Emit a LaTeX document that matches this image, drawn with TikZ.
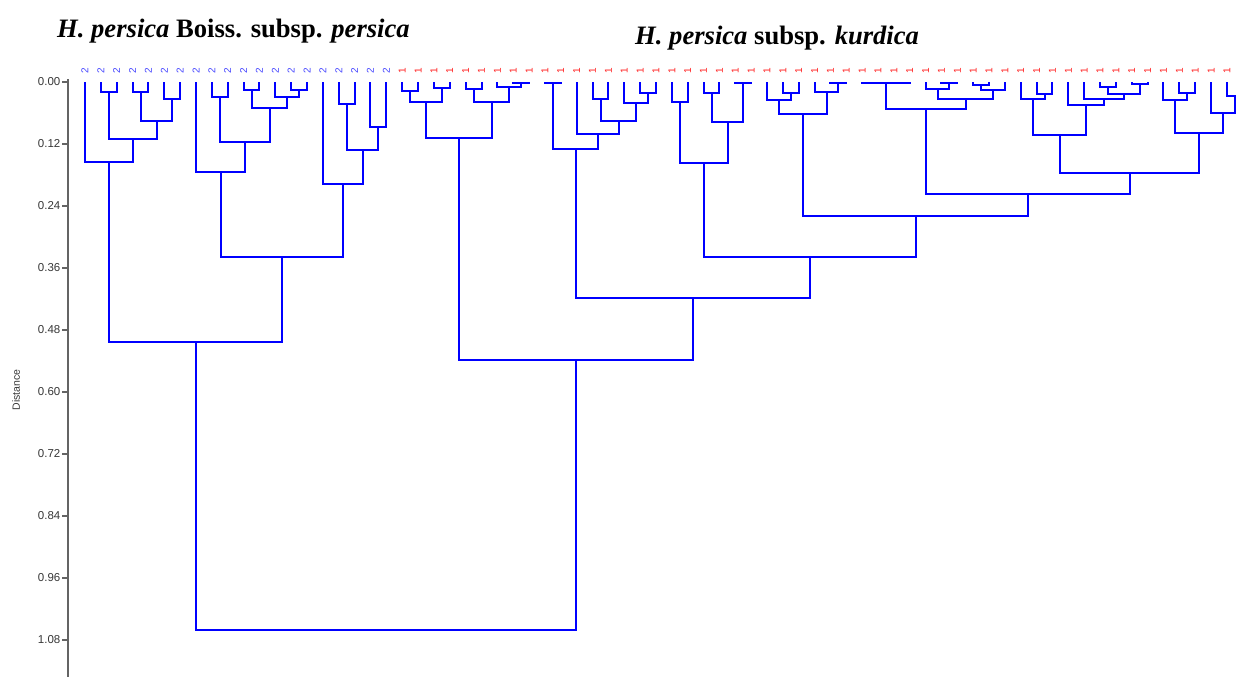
\documentclass[tikz,border=0pt]{standalone}
\usepackage{fontspec}
\setmainfont{Liberation Serif}
\setsansfont{Liberation Sans}
\usetikzlibrary{calc}
\definecolor{treeblue}{RGB}{0,0,255}
\definecolor{labblue}{RGB}{70,70,255}
\definecolor{labred}{RGB}{255,30,30}
\definecolor{axisgray}{RGB}{100,100,100}
\definecolor{ticktext}{RGB}{55,55,55}
\newcommand\tjoin[4]{%
  \path let \p1=(#1), \p2=(#2) in ({round((\x1+\x2)/2)},{round(#4)}) coordinate (#3);
  \draw[tree] let \p1=(#1) in (#1) -- (\x1,{round(#4)}) -- (#3);
  \draw[tree] let \p2=(#2) in (#2) -- (\x2,{round(#4)}) -- (#3);}
\begin{document}
\begin{tikzpicture}[x=1pt,y=-1pt,
  tree/.style={draw=treeblue,line width=2pt},
  axisline/.style={draw=axisgray,line width=1.3pt},
  ticklab/.style={anchor=east,inner sep=0pt,text=ticktext,font=\sffamily\fontsize{11.5}{13}\selectfont},
  leaflab/.style={rotate=90,inner sep=0pt,font=\sffamily\fontsize{10}{11}\selectfont},
  titletext/.style={anchor=base west,inner sep=0pt,font=\fontsize{26.6}{30}\selectfont\bfseries}]
\useasboundingbox (0,0) rectangle (1236,677);
\clip (0,0) rectangle (1236,677);
% titles
\node[titletext] (title1) at (57,37.5) {\textit{H. persica} Boiss. subsp. \textit{persica}};
\node[titletext] (title2) at (635,44.5) {\textit{H. persica} subsp. \textit{kurdica}};
% axis
\draw[axisline] (68,79) -- (68,677);
\foreach \v [count=\k from 0] in {0.00,0.12,0.24,0.36,0.48,0.60,0.72,0.84,0.96,1.08}{
  \draw[axisline] (62,{82+62*\k}) -- (68,{82+62*\k});
  \node[ticklab] (tk\k) at (60.5,{82+62*\k}) {\v};
}
\node[rotate=90,inner sep=0pt,text=ticktext,font=\sffamily\fontsize{10.5}{12}\selectfont] (dist) at (16,390) {Distance};
% leaves
\foreach \i in {0,...,73}{\coordinate (l\i) at ({round(85+15.86*\i)},82);}
\foreach \i in {0,...,19}{\node[leaflab,text=labblue] (n\i) at ({85+15.86*\i},71) {2};}
\foreach \i in {20,...,72}{\node[leaflab,text=labred] (n\i) at ({85+15.86*\i},71) {1};}
% subsp. persica
\tjoin{l1}{l2}{a12}{92.3}
\tjoin{l3}{l4}{a34}{92.3}
\tjoin{l5}{l6}{a56}{99.3}
\tjoin{a34}{a56}{a36}{121.3}
\tjoin{a12}{a36}{a16}{139.3}
\tjoin{l0}{a16}{a06}{161.7}
\tjoin{l8}{l9}{a89}{97.3}
\tjoin{l10}{l11}{a1011}{90}
\tjoin{l13}{l14}{a1314}{90}
\tjoin{l12}{a1314}{a1214}{97}
\tjoin{a1011}{a1214}{a1014}{108}
\tjoin{a89}{a1014}{a814}{141.7}
\tjoin{l7}{a814}{a714}{171.7}
\tjoin{l16}{l17}{a1617}{104.3}
\tjoin{l18}{l19}{a1819}{126.7}
\tjoin{a1617}{a1819}{a1619}{150.3}
\tjoin{l15}{a1619}{a1519}{183.7}
\tjoin{a714}{a1519}{a719}{257}
\tjoin{a06}{a719}{a019}{342}
% subsp. kurdica
\tjoin{l20}{l21}{b2021}{90.7}
\tjoin{l22}{l23}{b2223}{88.3}
\tjoin{b2021}{b2223}{b2023}{101.7}
\tjoin{l24}{l25}{b2425}{89.3}
\tjoin{l27}{l28}{b2728}{82.5}
\tjoin{l26}{b2728}{b2628}{86.5}
\tjoin{b2425}{b2628}{b2428}{101.7}
\tjoin{b2023}{b2428}{b2028}{138.3}
\tjoin{l29}{l30}{b2930}{82.5}
\tjoin{l32}{l33}{b3233}{99.3}
\tjoin{l35}{l36}{b3536}{93.3}
\tjoin{l34}{b3536}{b3436}{103.3}
\tjoin{b3233}{b3436}{b3236}{120.7}
\tjoin{l31}{b3236}{b3136}{134.3}
\tjoin{b2930}{b3136}{b2936}{149.3}
\tjoin{l37}{l38}{b3738}{101.7}
\tjoin{l39}{l40}{b3940}{93.3}
\tjoin{l41}{l42}{b4142}{82.5}
\tjoin{b3940}{b4142}{b3942}{121.7}
\tjoin{b3738}{b3942}{b3742}{163.3}
\tjoin{l44}{l45}{b4445}{93.3}
\tjoin{l43}{b4445}{b4345}{100}
\tjoin{l47}{l48}{b4748}{83.3}
\tjoin{l46}{b4748}{b4648}{91.7}
\tjoin{b4345}{b4648}{b4348}{114}
\tjoin{l49}{l50}{b4950}{82.5}
\tjoin{l51}{l52}{b5152}{82.5}
\tjoin{b4950}{b5152}{b4952}{82.8}
\tjoin{l54}{l55}{b5455}{82.7}
\tjoin{l53}{b5455}{b5355}{88.7}
\tjoin{l56}{l57}{b5657}{85.3}
\tjoin{b5657}{l58}{b5658}{90.3}
\tjoin{b5355}{b5658}{b5358}{98.7}
\tjoin{b4952}{b5358}{b4958}{108.7}
\tjoin{l60}{l61}{b6061}{93.5}
\tjoin{l59}{b6061}{b5961}{99}
\tjoin{l64}{l65}{b6465}{87}
\tjoin{l66}{l67}{b6667}{83.7}
\tjoin{b6465}{b6667}{b6467}{93.7}
\tjoin{l63}{b6467}{b6367}{98.7}
\tjoin{l62}{b6367}{b6267}{105.3}
\tjoin{b5961}{b6267}{b5967}{135}
\tjoin{l69}{l70}{b6970}{93.3}
\tjoin{l68}{b6970}{b6870}{100}
\tjoin{l72}{l73}{b7273}{95.5}
\tjoin{l71}{b7273}{b7173}{113}
\tjoin{b6870}{b7173}{b6873}{132.7}
\tjoin{b5967}{b6873}{b5973}{173.3}
\tjoin{b4958}{b5973}{b4973}{194}
\tjoin{b4348}{b4973}{b4373}{215.7}
\tjoin{b3742}{b4373}{b3773}{257}
\tjoin{b2936}{b3773}{b2973}{298}
\tjoin{b2028}{b2973}{b2073}{360}
\tjoin{a019}{b2073}{root}{630}
\end{tikzpicture}
\end{document}
